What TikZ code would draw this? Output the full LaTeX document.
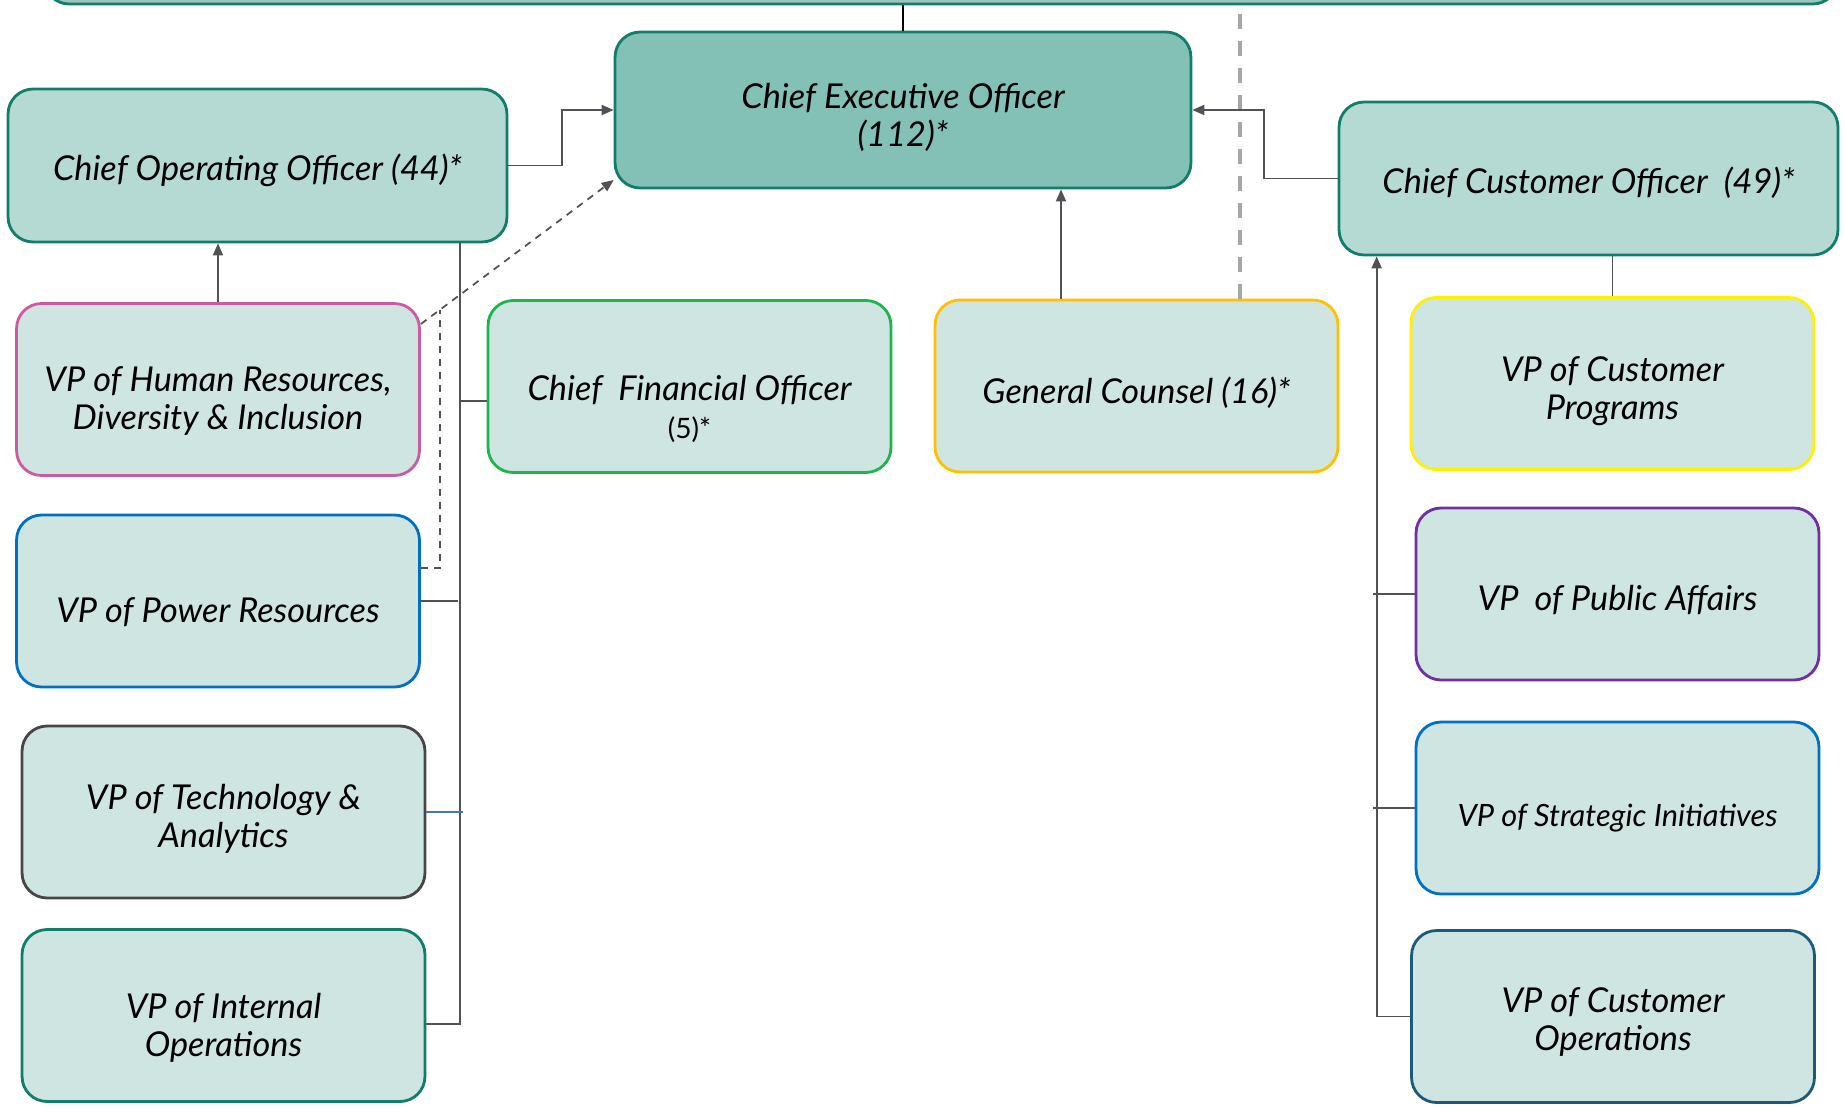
\documentclass[tikz,border=0pt]{standalone}
\usepackage{fontspec}
\setmainfont{Lato}
\usetikzlibrary{arrows.meta, positioning}
\definecolor{tealline}{RGB}{16,126,104}
\definecolor{ceofill}{RGB}{131,193,182}
\definecolor{chieffill}{RGB}{180,218,211}
\definecolor{vpfill}{RGB}{206,229,225}
\definecolor{boardfill}{RGB}{160,196,188}
\definecolor{linkgray}{RGB}{80,82,86}
\definecolor{hrpink}{RGB}{204,90,160}
\definecolor{cfogreen}{RGB}{30,180,80}
\definecolor{gcorange}{RGB}{255,192,0}
\definecolor{progyellow}{RGB}{255,240,0}
\definecolor{affpurple}{RGB}{112,48,160}
\definecolor{powblue}{RGB}{0,112,192}
\definecolor{techgray}{RGB}{70,70,70}
\definecolor{opsblue}{RGB}{30,90,120}
\definecolor{techline}{RGB}{68,114,196}
% strut that pushes the first line of a box down
\newcommand{\dn}[1]{\rule{0pt}{\dimexpr0.76em+#1\relax}}

\begin{document}
\begin{tikzpicture}[x=0.02cm, y=-0.02cm,
		box/.style={draw=tealline, line width=1.6pt, rounded corners=0.5cm,
			align=center, font=\fontsize{19.5}{21.5}\selectfont\itshape},
		chief/.style={box, fill=chieffill, minimum width=9.98cm, minimum height=3.06cm},
		vpbox/.style={box, fill=vpfill, minimum width=8.06cm, minimum height=3.44cm},
		arrow/.style={-{Triangle[length=2.4mm,width=2mm]}, line width=1.1pt, draw=linkgray},
		link/.style={line width=1.1pt, draw=linkgray},
		dotlink/.style={line width=1pt, draw=linkgray, dash pattern=on 0.14cm off 0.12cm},
		boardline/.style={line width=2.2pt, draw=black!35, dash pattern=on 0.3cm off 0.24cm}
	]
		\useasboundingbox (0,0) rectangle (1845,1109);
		\node[box, fill=boardfill, minimum width=35.88cm, minimum height=1.28cm] (board) at (941,-28) {};
		\node[box, fill=ceofill, minimum width=11.52cm, minimum height=3.12cm] (ceo) at (903,110) {\dn{8pt}Chief Executive Officer\\(112)*};
		\node[chief] (coo) at (257.5,165.5) {\dn{5.6pt}Chief Operating Officer (44)*};
		\node[chief] (cco) at (1588.5,178.5) {\dn{5.6pt}Chief Customer Officer\ \ (49)*};
		\node[vpbox, draw=cfogreen] (cfo) at (689.5,386.5) {\dn{25pt}Chief\ \ Financial Officer\\{\fontsize{16}{18}\selectfont\upshape (5)*}};
		\node[vpbox, draw=gcorange] (gc) at (1136.5,386) {\dn{8pt}General Counsel (16)*};
		\node[vpbox, draw=hrpink] (hr) at (218,389.5) {\dn{12pt}VP of Human Resources,\\Diversity \& Inclusion};
		\node[vpbox, draw=powblue] (power) at (218,601) {\dn{12pt}VP of Power Resources};
		\node[vpbox, draw=techgray] (tech) at (223.5,812) {\dn{7.4pt}VP of Technology \&\\Analytics};
		\node[vpbox] (intops) at (223.5,1015.5) {\dn{13.4pt}VP of Internal\\Operations};
		\node[vpbox, draw=progyellow] (custprog) at (1612.5,383.5) {\dn{8pt}VP of Customer\\Programs};
		\node[vpbox, draw=affpurple] (pubaff) at (1617.5,594) {\dn{6.8pt}VP\ \ of Public Affairs};
		\node[vpbox, draw=powblue, font=\fontsize{17.5}{21}\selectfont\itshape] (strat) at (1617.5,808) {\dn{10.7pt}VP of Strategic Initiatives};
		\node[vpbox, draw=opsblue] (custops) at (1613,1016.5) {\dn{5.6pt}VP of Customer\\Operations};

		% board and ceo
		\draw[line width=0.6pt] (board.south -| ceo.north) -- (ceo.north);
		\draw[boardline] ([xshift=-1.98cm]gc.north east) -- ([xshift=-1.98cm]gc.north east |- board.south);

		% reports to ceo
		\draw[arrow] (coo.east) -- ++(54,0) |- (ceo.west);
		\draw[arrow] (cco.west) -- ++(-74,0) |- (ceo.east);
		\draw[arrow] ([xshift=-1.51cm]gc.north) -- ([xshift=-1.51cm]gc.north |- ceo.south);
		\draw[dotlink, -{Triangle[length=2.4mm,width=2mm]}] ([yshift=1.31cm]hr.east)
			-- coordinate[pos=0.098] (dj) ([yshift=-1.4cm]ceo.west);
		\draw[dotlink] ([yshift=0.66cm]power.east) -| (dj);

		% operations side
		\coordinate (ltrunk) at ([xshift=-0.96cm]coo.south east);
		\draw[arrow] (hr.north) -- (hr.north |- coo.south);
		\draw[link] (ltrunk) |- ([yshift=-0.17cm]intops.east);
		\draw[link] ([yshift=-0.29cm]cfo.west) -- ([yshift=-0.29cm]cfo.west -| ltrunk);
		\draw[link] (power.east) -- ([xshift=-0.04cm]power.east -| ltrunk);
		\draw[line width=1pt, draw=techline] (tech.east) -- ([xshift=0.06cm]tech.east -| ltrunk);

		% customer side
		\coordinate (rtrunk) at ([xshift=0.78cm]cco.south west);
		\draw[link] (cco.south -| custprog.north) -- (custprog.north);
		\draw[arrow] (custops.west) -| (rtrunk);
		\foreach \vp in {pubaff,strat}
			\draw[link] (\vp.west) -- ([xshift=-0.08cm]\vp.west -| rtrunk);
	\end{tikzpicture}
\end{document}
